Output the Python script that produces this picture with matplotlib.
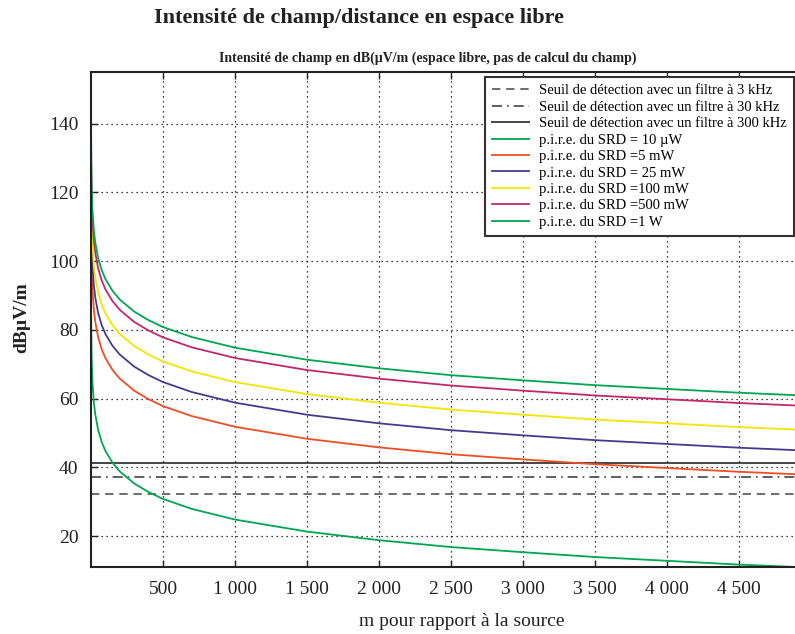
import matplotlib
matplotlib.use('Agg')
import matplotlib.pyplot as plt

# Distances (m) et intensité de champ (dBµV/m)
distances = [0.3, 1, 2, 5, 10, 20, 30, 50, 75, 100, 150, 200, 300, 400, 500,
             700, 1000, 1500, 2000, 2500, 3000, 3500, 4000, 4500, 5000]

champ_10uW = [95.3, 84.8, 78.8, 70.8, 64.8, 58.8, 55.3, 50.8, 47.3, 44.8, 41.3, 38.8, 35.3,
              32.8, 30.8, 27.9, 24.8, 21.3, 18.8, 16.8, 15.3, 13.9, 12.8, 11.7, 10.8]
champ_5mW = [122.3, 111.8, 105.8, 97.8, 91.8, 85.8, 82.3, 77.8, 74.3, 71.8, 68.3, 65.8, 62.3,
             59.8, 57.8, 54.9, 51.8, 48.3, 45.8, 43.8, 42.3, 40.9, 39.8, 38.7, 37.8]
champ_25mW = [129.3, 118.8, 112.8, 104.8, 98.8, 92.8, 89.3, 84.8, 81.3, 78.8, 75.3, 72.8, 69.3,
              66.8, 64.8, 61.9, 58.8, 55.3, 52.8, 50.8, 49.3, 47.9, 46.8, 45.7, 44.8]
champ_100mW = [135.3, 124.8, 118.8, 110.8, 104.8, 98.8, 95.3, 90.8, 87.3, 84.8, 81.3, 78.8, 75.3,
               72.8, 70.8, 67.9, 64.8, 61.3, 58.8, 56.8, 55.3, 53.9, 52.8, 51.7, 50.8]
champ_500mW = [142.3, 131.8, 125.8, 117.8, 111.8, 105.8, 102.3, 97.8, 94.3, 91.8, 88.3, 85.8, 82.3,
               79.8, 77.8, 74.9, 71.8, 68.3, 65.8, 63.8, 62.3, 60.9, 59.8, 58.7, 57.8]
champ_1W = [145.3, 134.8, 128.8, 120.8, 114.8, 108.8, 105.3, 100.8, 97.3, 94.8, 91.3, 88.8, 85.3,
            82.8, 80.8, 77.9, 74.8, 71.3, 68.8, 66.8, 65.3, 63.9, 62.8, 61.7, 60.8]

# Seuils de détection (dBµV/m)
seuil_3kHz = 32.2
seuil_30kHz = 37.2
seuil_300kHz = 41.2

x_ticks = [500, 1000, 1500, 2000, 2500, 3000, 3500, 4000, 4500]
x_tick_labels = ['500', '1 000', '1 500', '2 000', '2 500', '3 000', '3 500', '4 000', '4 500']
y_ticks = [20, 40, 60, 80, 100, 120, 140]

plt.rcParams['font.family'] = ['Liberation Serif', 'DejaVu Serif']

fig = plt.figure(figsize=(7.95, 6.34), dpi=100)
ax = fig.add_axes([91 / 795, 1 - 567 / 634, (811 - 91) / 795, (567 - 72) / 634])

# Seuils
ax.axhline(seuil_3kHz, color='#555555', lw=1.2, ls=(0, (5, 3.5)),
           label='Seuil de détection avec un filtre à 3 kHz')
ax.axhline(seuil_30kHz, color='#444444', lw=1.2, ls=(0, (6, 3, 1, 3)),
           label='Seuil de détection avec un filtre à 30 kHz')
ax.axhline(seuil_300kHz, color='#444444', lw=1.4,
           label='Seuil de détection avec un filtre à 300 kHz')

# Courbes
ax.plot(distances, champ_10uW, color='#00a651', lw=1.3, label='p.i.r.e. du SRD = 10 µW')
ax.plot(distances, champ_5mW, color='#f04e23', lw=1.3, label='p.i.r.e. du SRD =5 mW')
ax.plot(distances, champ_25mW, color='#463a8f', lw=1.3, label='p.i.r.e. du SRD = 25 mW')
ax.plot(distances, champ_100mW, color='#f2e500', lw=1.3, label='p.i.r.e. du SRD =100 mW')
ax.plot(distances, champ_500mW, color='#c3276a', lw=1.3, label='p.i.r.e. du SRD =500 mW')
ax.plot(distances, champ_1W, color='#00a651', lw=1.3, label='p.i.r.e. du SRD =1 W')

ax.set_xlim(0, 5000)
ax.set_ylim(11, 155)
ax.set_xticks(x_ticks)
ax.set_xticklabels(x_tick_labels)
ax.set_yticks(y_ticks)
ax.tick_params(direction='in', length=5, width=1, top=True, right=True,
               labelsize=14, colors='#222222')
ax.tick_params(axis='y', pad=9)
ax.tick_params(axis='x', pad=10)
ax.grid(True, color='black', ls=(0, (1, 3)), lw=0.9)
for s in ax.spines.values():
    s.set_linewidth(1.5)
    s.set_color('#222222')

leg = ax.legend(loc='upper right', bbox_to_anchor=(794 / 795, 1 - 77 / 634),
                bbox_transform=fig.transFigure, borderaxespad=0, fontsize=10.5,
                frameon=True, fancybox=False, handlelength=2.5, handletextpad=0.7,
                labelspacing=0.22, borderpad=0.5)
leg.get_frame().set_edgecolor('#333333')
leg.get_frame().set_linewidth(1.5)
leg.get_frame().set_alpha(1)

fig.text(359 / 795, 1 - 18 / 634, 'Intensité de champ/distance en espace libre',
         ha='center', va='center', fontsize=16, fontweight='bold', color='#222222')
fig.text(428 / 795, 1 - 58 / 634,
         'Intensité de champ en dB(µV/m (espace libre, pas de calcul du champ)',
         ha='center', va='center', fontsize=10, fontweight='bold', color='#222222')
fig.text(22 / 795, 1 - 318 / 634, 'dBµV/m', rotation=90, ha='center', va='center',
         fontsize=14, fontweight='bold', color='#222222')
fig.text(462 / 795, 1 - 621 / 634, 'm pour rapport à la source', ha='center', va='center',
         fontsize=14, color='#222222')

fig.savefig('out.png', dpi=100)
